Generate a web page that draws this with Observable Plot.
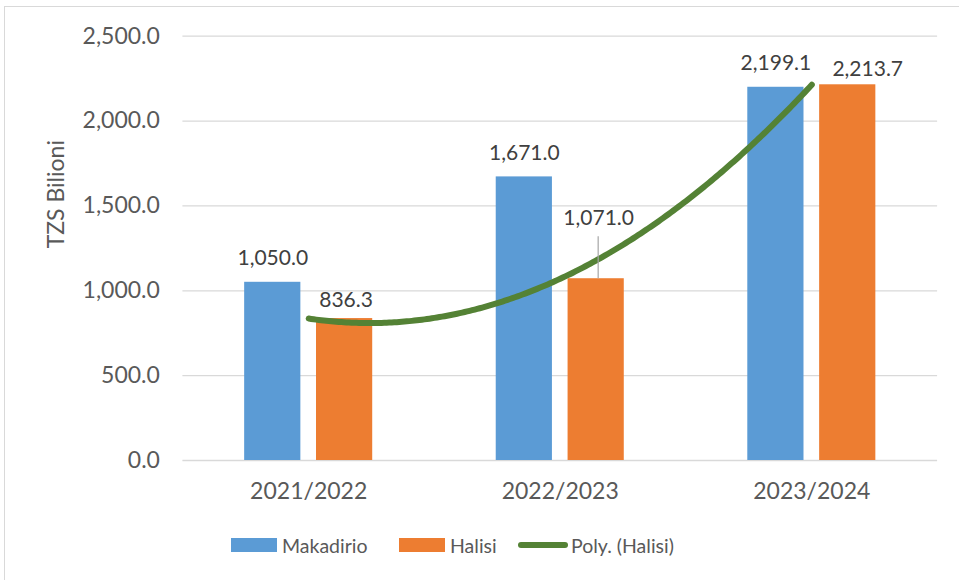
<!DOCTYPE html>
<html>
<head>
<meta charset="utf-8">
<script src="https://cdn.jsdelivr.net/npm/d3@7"></script>
<script src="https://cdn.jsdelivr.net/npm/@observablehq/plot@0.6"></script>
<style>
  html, body { margin: 0; padding: 0; background: #fff; }
  #wrap { position: relative; width: 959px; height: 580px; overflow: hidden; font-family: Lato, "Open Sans", sans-serif; color: #595959; }
  #frame { position: absolute; left: 4px; top: 6px; width: 1000px; height: 1000px; border: 1.5px solid #d9d9d9; box-sizing: border-box; }
  #chart { position: absolute; left: 0; top: 0; }
  #legend { position: absolute; left: 0; top: 530px; width: 959px; height: 30px; font-size: 19.5px; }
  .item { position: absolute; top: 0; height: 30px; display: flex; align-items: center; }
  .sw { display: inline-block; width: 46px; height: 14px; margin-right: 5px; }
  .ln { display: inline-block; width: 50px; height: 6px; border-radius: 3px; margin-right: 3px; }
</style>
</head>
<body>
<div id="wrap">
  <div id="frame"></div>
  <div id="chart"></div>
  <div id="legend"></div>
</div>
<script>
// ---- data ----
const categories = ["2021/2022", "2022/2023", "2023/2024"];
const makadirio = [1050.0, 1671.0, 2199.1];
const halisi = [836.3, 1071.0, 2213.7];
const yTicks = [0, 500, 1000, 1500, 2000, 2500];
const seriesNames = ["Makadirio", "Halisi", "Poly. (Halisi)"];

// ---- styles ----
const colors = {Makadirio: "#5B9BD5", Halisi: "#ED7D31", trend: "#548235"};
const textColor = "#595959";
const labelColor = "#404040";
const barOffset = 0.1428, barHalf = 0.1117;

// tables
const bars = [];
categories.forEach((c, i) => {
  bars.push({cat: c, k: i + 1, series: "Makadirio", value: makadirio[i], pos: i + 1 - barOffset});
  bars.push({cat: c, k: i + 1, series: "Halisi", value: halisi[i], pos: i + 1 + barOffset});
});

// 2nd-order polynomial trendline fitted to Halisi (least squares)
function polyFit2(xs, ys) {
  const n = xs.length;
  let s = [0,0,0,0,0], t = [0,0,0];
  for (let i = 0; i < n; i++) {
    const x = xs[i], y = ys[i];
    for (let p = 0; p <= 4; p++) s[p] += Math.pow(x, p);
    for (let p = 0; p <= 2; p++) t[p] += y * Math.pow(x, p);
  }
  const A = [[s[0], s[1], s[2], t[0]], [s[1], s[2], s[3], t[1]], [s[2], s[3], s[4], t[2]]];
  for (let i = 0; i < 3; i++) {
    let m = i;
    for (let r = i + 1; r < 3; r++) if (Math.abs(A[r][i]) > Math.abs(A[m][i])) m = r;
    [A[i], A[m]] = [A[m], A[i]];
    for (let r = 0; r < 3; r++) if (r !== i) {
      const f = A[r][i] / A[i][i];
      for (let c = i; c < 4; c++) A[r][c] -= f * A[i][c];
    }
  }
  return [A[0][3] / A[0][0], A[1][3] / A[1][1], A[2][3] / A[2][2]];
}
const xs = categories.map((_, i) => i + 1);
const [c0, c1, c2] = polyFit2(xs, halisi);
const trend = d3.range(0, 201).map(j => {
  const x = 1 + j * (xs.length - 1) / 200;
  return {x, y: c0 + c1 * x + c2 * x * x};
});

const fmt = d3.format(",.1f");
const mk = bars.filter(d => d.series === "Makadirio");
const ha = bars.filter(d => d.series === "Halisi");
const ha1 = ha.filter(d => d.k === 1);
const ha2 = ha.filter(d => d.k === 2);
const ha3 = ha.filter(d => d.k === 3);

const plot = Plot.plot({
  width: 959,
  height: 515,
  marginTop: 35.7,
  marginBottom: 55,
  marginLeft: 182.4,
  marginRight: 21.9,
  style: {fontFamily: "Lato, 'Open Sans', sans-serif", color: textColor, background: "transparent"},
  x: {domain: [0.5, 3.5]},
  y: {domain: [0, 2500]},
  marks: [
    Plot.gridY(yTicks, {stroke: "#d9d9d9", strokeOpacity: 1, strokeWidth: 1.3}),
    Plot.axisY(yTicks, {tickSize: 0, tickPadding: 23, tickFormat: fmt, fontSize: 23, fill: textColor, label: null}),
    Plot.axisX(xs, {tickSize: 0, tickPadding: 22, tickFormat: d => categories[d - 1], fontSize: 23, fill: textColor, label: null}),
    Plot.text(["TZS Bilioni"], {frameAnchor: "left", rotate: -90, dx: -126.4, fontSize: 23, fill: textColor}),
    Plot.rectY(bars, {x1: d => d.pos - barHalf, x2: d => d.pos + barHalf, y1: 0, y2: "value", fill: d => colors[d.series]}),
    Plot.line(trend, {x: "x", y: "y", stroke: colors.trend, strokeWidth: 6, strokeLinecap: "round", curve: "linear"}),
    Plot.ruleX(ha2, {x: "pos", y1: "value", y2: "value", insetTop: -42, stroke: "#a6a6a6", strokeWidth: 1.2, dx: 2}),
    Plot.text(mk, {x: "pos", y: "value", text: d => fmt(d.value), dy: -24, fontSize: 21, fill: labelColor}),
    Plot.text(ha1, {x: "pos", y: "value", text: d => fmt(d.value), dy: -18.5, dx: 1.5, fontSize: 21, fill: labelColor}),
    Plot.text(ha2, {x: "pos", y: "value", text: d => fmt(d.value), dy: -60, dx: 2.5, fontSize: 21, fill: labelColor}),
    Plot.text(ha3, {x: "pos", y: "value", text: d => fmt(d.value), dy: -15.5, dx: 20, fontSize: 21, fill: labelColor})
  ]
});
document.getElementById("chart").appendChild(plot);

// legend
const legend = document.getElementById("legend");
const items = [
  {name: seriesNames[0], left: 231, kind: "sw", color: colors.Makadirio},
  {name: seriesNames[1], left: 399, kind: "sw", color: colors.Halisi},
  {name: seriesNames[2], left: 518, kind: "ln", color: colors.trend}
];
items.forEach(it => {
  const d = document.createElement("div");
  d.className = "item";
  d.style.left = it.left + "px";
  const s = document.createElement("span");
  s.className = it.kind;
  s.style.background = it.color;
  d.appendChild(s);
  d.appendChild(document.createTextNode(it.name));
  legend.appendChild(d);
});
</script>
</body>
</html>
